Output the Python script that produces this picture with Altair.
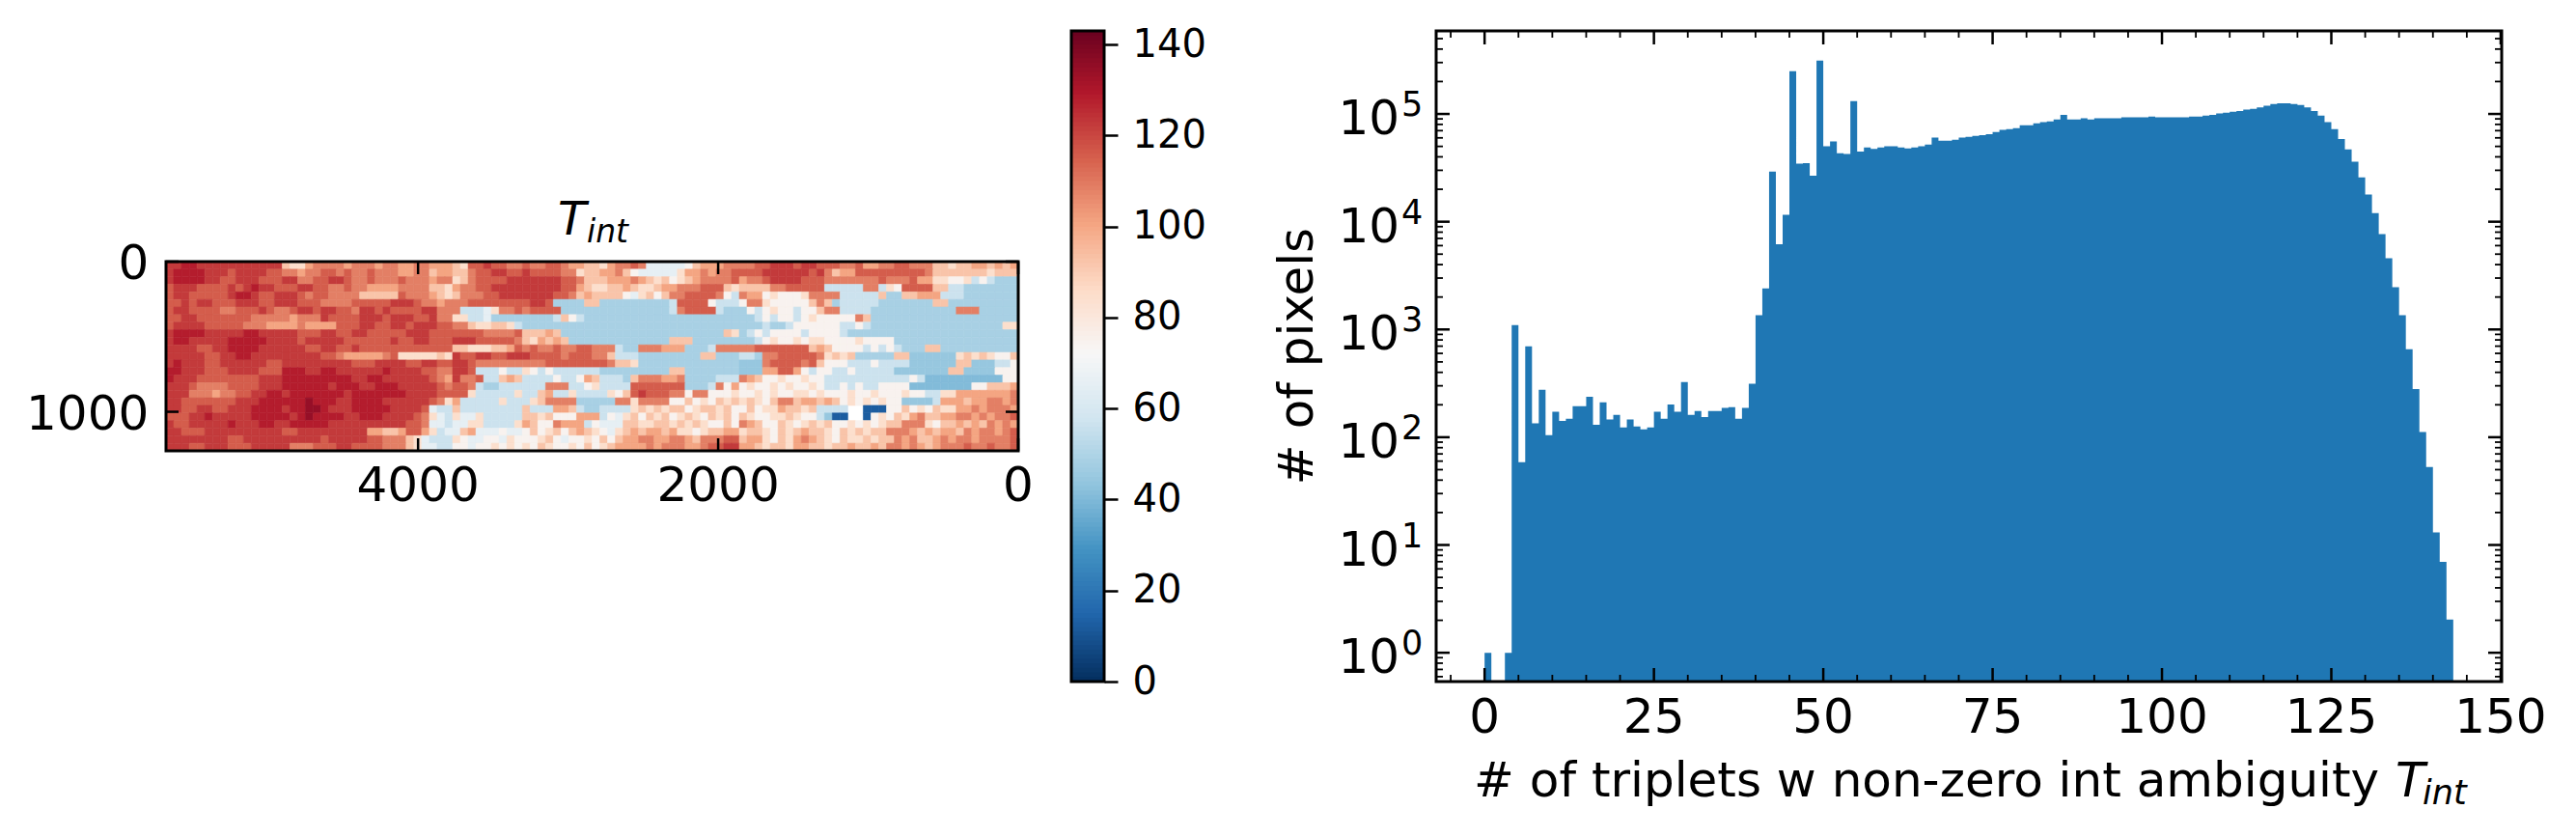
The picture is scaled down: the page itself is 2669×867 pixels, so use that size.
import altair as alt
import pandas as pd

FONT = "DejaVu Sans"
BLUE = "#1f77b4"

# ---------- data ----------
# log10(count) of each one-wide histogram bin, starting at bin 0 (None = empty bin)
hist_log10 = [
    0.0, None, None, 0.0, 3.04, 1.768, 2.844, 2.128, 2.44, 2.02,
    2.236, 2.152, 2.172, 2.288, 2.288, 2.376, 2.116, 2.324, 2.164, 2.208,
    2.092, 2.164, 2.10, 2.072, 2.092, 2.236, 2.172, 2.304, 2.236, 2.512,
    2.208, 2.244, 2.188, 2.244, 2.244, 2.272, 2.28, 2.172, 2.272, 2.496,
    3.132, 3.38, 4.464, 3.792, 4.064, 5.396, 4.54, 4.544, 4.428, 5.496,
    4.70, 4.744, 4.636, 4.628, 5.12, 4.652, 4.688, 4.676, 4.688, 4.70,
    4.70, 4.688, 4.68, 4.688, 4.70, 4.716, 4.78, 4.752, 4.752, 4.76,
    4.78, 4.788, 4.796, 4.804, 4.812, 4.832, 4.852, 4.86, 4.868, 4.896,
    4.896, 4.912, 4.924, 4.932, 4.948, 4.992, 4.948, 4.948, 4.96, 4.948,
    4.96, 4.96, 4.96, 4.96, 4.968, 4.968, 4.968, 4.968, 4.976, 4.968,
    4.968, 4.968, 4.968, 4.968, 4.976, 4.976, 4.984, 4.992, 5.004, 5.012,
    5.02, 5.028, 5.04, 5.048, 5.06, 5.076, 5.092, 5.10, 5.10, 5.092,
    5.084, 5.06, 5.028, 4.984, 4.924, 4.86, 4.768, 4.672, 4.556, 4.412,
    4.252, 4.08, 3.884, 3.66, 3.392, 3.132, 2.816, 2.448, 2.048, 1.724,
    1.116, 0.844, 0.308,
]
hist_end = 143
hist_base = 0.54

# heat-map colour classes and the value each stands for
class_values = {
    "D": 12, "c": 44, "d": 40, "b": 48, "l": 56, "w": 65, "n": 74, "p": 84,
    "q": 92, "r": 100, "s": 108, "t": 115, "u": 122, "v": 128, "x": 134,
}
# each row: left, middle and right part of the map, W = no data
heat_left = [
    "uuvvuuuuuuuuuuuqpprssssrsssrssrrssrrr",
    "uvvvvuuutuuuuttssrssttstsstsssrrssqrr",
    "uvvvvuuttuuutttuussttuutsstssstsssrss",
    "tuuuttttutuvuutttuuttsstssrrrrssssqqp",
    "tuutttttuvvuttuuutsttssssqqqqqtsssrqp",
    "ttutuutttuuuttuuutttsssstttttuuutssrs",
    "tuuttttsstttutsstuutuuttsuututtttuuss",
    "ttuutttttttsssssrsssuttttuuutuuuttuss",
    "tuuuutttttsssrrrrsrrrrtttuuttuutuuutt",
    "uvvvvuuuuuvvuuuuutttuuttuutttttuuuttt",
    "uvvuuuuuvvvvvuuuutuuuuuttttttuttuuttt",
    "uuuuttuuvvvvuuuuuuttuuttuttttttttttttt"[:37],
    "uuuuuttuuvvuuuuuuuuuttsrrrrrstpppppqp",
    "uvuuuttuuuuuuttuuuuuuuuutttuuuuttuutt",
    "vvuuutttuuuutttvvvuuvvuuuuuuvuuuuttss",
    "vuuuttttttttuuuvvvvvvvvvuuvvuuuuuutsr",
    "uuutssssttttuuuvvvvvvuvvvuuvvvuuuuuts",
    "uuusssrssttuuvvuvvvvvvvuvvvvvvvuuuutt",
    "uutttttttuuuvvvvvvxvvvuuvvvvuuuuuutsp",
    "uuttuuttuuuvvvvuvvxxvuuuvvvvvuuuutwll",
    "tttuuvuuuuuvvvvvuvxvvvvuuvvvuuuutspwl",
    "uttuuuuuvuuuvvuuvvvvvuuuuuuuuuuttswwl",
    "uutttuuuuuuuuuuttuuuuuuuuurrqqrttrplw",
    "uuuuuuuuttuuuuuuuuuutuuuuuttsssqpwlll",
    "uuuttuuutttuuuuussstttuuttttsssqpwwll",
]
heat_middle = [
    "qpttuttsstssttsrrqqprsstswwwwwnqrrrss",
    "qqsttuuttuttttsspqqrrsqnwwwwwprrsrsst",
    "pqsttttuuuuuuuttsqqqrrrsrqpqnpqrsssst",
    "rssttuuuuuuuuuttrqppqqrqppqrrssstttqp",
    "qsssttuuuuuuuttsqrqqqqnwpqnqssttttsnl",
    "ssttttttttuutbbbbqqbbbbbbbbblttttnlll",
    "slllwpsststtttbbbbbbbbbbbbbblsttttlbb",
    "ppllwbbbbbbbblqnlbbbbbbbbbbbbbbbbbbbb",
    "ssqppqqplbbbbbbbbbbbbbbbbbbbbbbbbbbbb",
    "ttttsssstqqqrqbbbbbbbbbbbbbbbbbbbbbqp",
    "uuutttttsqprqrqbbbbbbbbbbbbbqqqbbbbbb",
    "qqpppqqrtstsstssttssslbbsssrrrbbblsss",
    "uttuuttuuuttttstttssqlllbbbbbbbbqqbbb",
    "uutsssssssssttttttttsqqpbbbbbbbbbbbbb",
    "uutlllnllpnlnllllllbbbbbbbbbqqbbbbbbb",
    "usstllqrqllllnllnrqlllbqsssrrsbbbblll",
    "ttslbbllllllsssllnplllltttttttbbblsnr",
    "ttplllllpllqrllpllllpnqtutttssnssnnnp",
    "rlllllplllpqssssbbbbbsspssssnnqnpnqpq",
    "qllllllllqlllrrqlbbllllpqpqpqqnpqqpqn",
    "pwwplllllqqpqnnnrrrlnwpqnqpqnpqpnqpqn",
    "wwppllllprqnnsrrrlnwwwqqppqqpqpqpnnqn",
    "wqrwwwnwwnqnpqnqrqpnwpqrqrrqrppnpqqrr",
    "pnwwnnwpnnnpqnwnnpnqnqrrssrrssrqssstt",
    "nnwnnpnpnpnqpnnpnqnpqrrrrsrsssrrsttuu",
]
heat_right = [
    "ssttuuutuutttsstrrssttsssqqpqqrrqrqr",
    "tttuuuuuutusqrrtttttttttsqqqqqqqpqqq",
    "rsstuuuutttssssssstssstrrppnnplnlbbb",
    "qqqqsstttttlllllsslpnttttqqllbbbbbbb",
    "srrnpnnnpsssslllllqbbqqrrrlllbbbbbbb",
    "nsspnnnnnqsqblllllbbbbbbbqqbbbbbbbbb",
    "bnlnpnnlnnqssllllbbbbbbbbbbbsssbbbbb",
    "bblnlnnlnpnnnnnsqbbbbbbbbbbbbbbbbbbb",
    "bbblbblnnnnnnllnlbbbbbbbbbbbbbbbbbpp",
    "blnlnnnnlnnnnlbbbbbbbbbbbbbbbbbbbbbb",
    "bblnpnnpnppnnnnpnnnnbbbbbbbbbbbbbbbb",
    "sstttttttqrqnnnnlnlnlbbbqqbbbbbbbbbb",
    "llbsstttttspqpqbbbbbqqccccccpqpqpnnq",
    "cccsttttstqnnnlllnllllccccccqqccclln",
    "cccrrttrnlnnllnlllllcccccccqqccccnnn",
    "srqnnpnnpnnlllllllllllnlddddddddddnn",
    "npnnpnpnnpnllnlnllnnnnddddddddnnqqqr",
    "nnpnpnnppnpnnnpnnpnnnpnnllpprrrrrrrs",
    "pqpnqssqrrqrqnpnpnpnncccclrrrqrrssrs",
    "nqnpprqqpqllllWWDDDnnqnpnqpprrsrsssr",
    "qpnnppqpnnlcDDWWDnpnqprsqqrrssrsrsst",
    "srqnnqpnpqpqnnpnpnpqqssspnqqrqrqsrsr",
    "pqqpnqpqrqqpnqpqpqqsssrqrqrrqsrssrst",
    "qrrpnqprsrqpnqppqpqqsrsqqrsrssrsssst",
    "rrqpqqprrqqpqqrqqrqssrsrqrssstsstsst",
]

heat_cols = 110
heat_x_max = 5680
heat_y_max = 1260
heat_x_ticks = [4000, 2000, 0]
heat_y_ticks = [0, 1000]

colormap_stops = [0, 14.3, 28.6, 42.9, 57.2, 71.5, 85.8, 100.1, 114.4, 128.7, 143]
colormap_colors = ["#053061", "#2166ac", "#4393c3", "#92c5de", "#d1e5f0", "#f7f7f7",
                   "#fddbc7", "#f4a582", "#d6604d", "#b2182b", "#67001f"]
cbar_levels = list(range(0, 143))
cbar_ticks = [0, 20, 40, 60, 80, 100, 120, 140]

hist_x_major = [0, 25, 50, 75, 100, 125, 150]
hist_x_minor = [-5, 5, 10, 15, 20, 30, 35, 40, 45, 55, 60, 65, 70, 80, 85, 90, 95,
                105, 110, 115, 120, 130, 135, 140, 145]
hist_y_decades = [0, 1, 2, 3, 4, 5]
hist_y_major = [1, 10, 100, 1000, 10000, 100000]
hist_y_minor = [0.6, 0.7, 0.8, 0.9] + [m * 10 ** e for e in range(0, 5) for m in range(2, 10)] + \
               [200000, 300000, 400000, 500000]

# ---------- panel sizes ----------
HW, HH = 883, 196
CW, CH = 34, 674
PW, PH = 1104, 674
MAJ, MIN = 14, 7
MAJ_W, MIN_W, FRAME_W = 2.5, 1.8, 3
TICK_FS, LABEL_FS, CB_FS = 50, 50, 40


def frame(w, h):
    return alt.Chart(pd.DataFrame({"k": [0]})).mark_rect(
        filled=False, stroke="black", strokeWidth=FRAME_W
    ).encode(x=alt.value(0), x2=alt.value(w), y=alt.value(0), y2=alt.value(h))


def vticks(values, scale, h, length, width):
    d = pd.DataFrame({"t": values})
    x = alt.X("t:Q", scale=scale, axis=None)
    return [
        alt.Chart(d).mark_rule(color="black", strokeWidth=width).encode(x=x, y=alt.value(0), y2=alt.value(length)),
        alt.Chart(d).mark_rule(color="black", strokeWidth=width).encode(x=x, y=alt.value(h), y2=alt.value(h - length)),
    ]


def hticks(values, scale, w, length, width):
    d = pd.DataFrame({"t": values})
    y = alt.Y("t:Q", scale=scale, axis=None)
    return [
        alt.Chart(d).mark_rule(color="black", strokeWidth=width).encode(y=y, x=alt.value(0), x2=alt.value(length)),
        alt.Chart(d).mark_rule(color="black", strokeWidth=width).encode(y=y, x=alt.value(w), x2=alt.value(w - length)),
    ]


def xlabels(values, scale, baseline):
    d = pd.DataFrame({"t": values, "s": [str(v) for v in values]})
    return alt.Chart(d).mark_text(font=FONT, fontSize=TICK_FS, color="black", align="center",
                                  baseline="alphabetic").encode(
        x=alt.X("t:Q", scale=scale, axis=None), y=alt.value(baseline), text="s:N")


def ylabels(values, scale, right):
    d = pd.DataFrame({"t": values, "s": [str(v) for v in values]})
    return alt.Chart(d).mark_text(font=FONT, fontSize=TICK_FS, color="black", align="right",
                                  baseline="alphabetic", dy=18).encode(
        y=alt.Y("t:Q", scale=scale, axis=None), x=alt.value(right), text="s:N")


def label(text, x, y, size, italic=False, angle=0, align="left"):
    kw = {"fontStyle": "italic"} if italic else {}
    if angle:
        kw["angle"] = angle
    return alt.Chart(pd.DataFrame({"s": [text]})).mark_text(
        font=FONT, fontSize=size, color="black", align=align, baseline="alphabetic", **kw
    ).encode(text="s:N", x=alt.value(x), y=alt.value(y))


color_scale = alt.Scale(domain=colormap_stops, range=colormap_colors, interpolate="rgb")

# ---------- heat map ----------
rows = []
n_rows = len(heat_left)
dx = heat_x_max / heat_cols
dy = heat_y_max / n_rows
for r in range(n_rows):
    row = (heat_left[r] + heat_middle[r] + heat_right[r])
    for c, ch in enumerate(row):
        if ch == "W":
            continue
        rows.append({"x0": heat_x_max - c * dx, "x1": heat_x_max - (c + 1) * dx,
                     "y0": r * dy, "y1": (r + 1) * dy, "v": class_values[ch]})
heat_df = pd.DataFrame(rows)

hx = alt.Scale(domain=[heat_x_max, 0], nice=False)
hy = alt.Scale(domain=[heat_y_max, 0], nice=False)
heat_cells = alt.Chart(heat_df).mark_rect(strokeWidth=0.6, clip=True).encode(
    x=alt.X("x0:Q", scale=hx, axis=None),
    x2="x1:Q",
    y=alt.Y("y0:Q", scale=hy, axis=None),
    y2="y1:Q",
    color=alt.Color("v:Q", scale=color_scale, legend=None),
    stroke=alt.Stroke("v:Q", scale=color_scale, legend=None),
)
heat = alt.layer(
    heat_cells,
    *vticks(heat_x_ticks, hx, HH, 13, MAJ_W),
    *hticks(heat_y_ticks, hy, HW, 13, MAJ_W),
    frame(HW, HH),
    xlabels(heat_x_ticks, hx, 248),
    ylabels(heat_y_ticks, hy, -17.7),
    label("T", 406, -28, 48, italic=True),
    label("int", 436, -20, 33, italic=True),
).properties(width=HW, height=HH)

# ---------- colour bar ----------
cb_df = pd.DataFrame({"v": cbar_levels, "v2": [v + 1.6 for v in cbar_levels]})
cy = alt.Scale(domain=[0, 143], nice=False)
cbar_cells = alt.Chart(cb_df).mark_rect(clip=True).encode(
    y=alt.Y("v:Q", scale=cy, axis=alt.Axis(orient="right", values=cbar_ticks, title=None, domain=False, grid=False,
                                           tickSize=MAJ, tickWidth=MAJ_W, tickColor="black", labelFontSize=CB_FS,
                                           labelFont=FONT, labelColor="black", labelPadding=15,
                                           labelFlush=False, labelOverlap=False)),
    y2="v2:Q",
    x=alt.value(0), x2=alt.value(CW),
    color=alt.Color("v:Q", scale=color_scale, legend=None),
)
cbar = alt.layer(cbar_cells, frame(CW, CH)).properties(width=CW, height=CH)

# ---------- spacer between colour bar and histogram ----------
spacer = alt.Chart(pd.DataFrame({"k": [0]})).mark_point(opacity=0).encode(
    x=alt.value(0), y=alt.value(0)).properties(width=234, height=PH)

# ---------- histogram ----------
ts = list(range(len(hist_log10))) + [hist_end]
counts = [hist_base if v is None else 10 ** v for v in hist_log10] + [hist_base]
hist_df = pd.DataFrame({"t": ts, "c": counts, "b": [hist_base] * len(ts)})
px = alt.Scale(domain=[-7.15, 150.15], nice=False, zero=False)
py = alt.Scale(type="log", domain=[hist_base, 590000], nice=False)
area = alt.Chart(hist_df).mark_area(interpolate="step-after", color=BLUE, clip=True).encode(
    x=alt.X("t:Q", scale=px, axis=None),
    y=alt.Y("c:Q", scale=py, axis=None, stack=None),
    y2="b:Q",
)
dec_df = pd.DataFrame({"t": hist_y_major, "e": [str(d) for d in hist_y_decades], "base": ["10"] * 6})
y_tens = alt.Chart(dec_df).mark_text(font=FONT, fontSize=TICK_FS, color="black", align="right",
                                     baseline="alphabetic", dy=21).encode(
    y=alt.Y("t:Q", scale=py, axis=None), x=alt.value(-38), text="base:N")
y_exp = alt.Chart(dec_df).mark_text(font=FONT, fontSize=35, color="black", align="left",
                                    baseline="alphabetic", dy=2).encode(
    y=alt.Y("t:Q", scale=py, axis=None), x=alt.value(-36), text="e:N")
hist = alt.layer(
    area,
    *vticks(hist_x_major, px, PH, MAJ, MAJ_W),
    *vticks(hist_x_minor, px, PH, MIN, MIN_W),
    *hticks(hist_y_major, py, PW, MAJ, MAJ_W),
    *hticks(hist_y_minor, py, PW, MIN, MIN_W),
    frame(PW, PH),
    xlabels(hist_x_major, px, 727),
    y_tens, y_exp,
    label("# of pixels", -128, PH / 2, LABEL_FS, angle=270, align="center"),
    label("# of triplets w non-zero int ambiguity", 39, 793, LABEL_FS),
    label("T", 994, 793, LABEL_FS, italic=True),
    label("int", 1022, 801, 35, italic=True),
).properties(width=PW, height=PH)

chart = alt.hconcat(heat, cbar, spacer, hist, spacing=55, bounds="flush", center=True).resolve_scale(
    color="independent", x="independent", y="independent"
).configure_view(stroke=None).properties(
    padding={"left": 19, "top": 18, "right": 5, "bottom": 5}, background="white"
)

chart.save("out.html", embed_options={"renderer": "svg", "actions": False})
